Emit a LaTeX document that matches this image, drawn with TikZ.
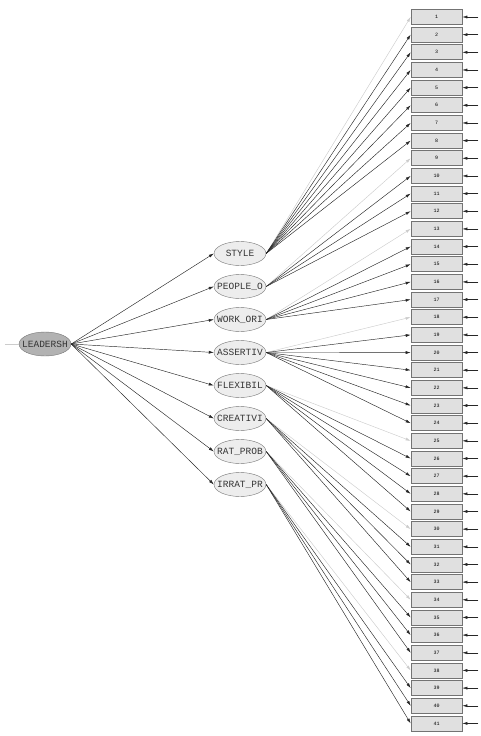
\documentclass[tikz,border=0pt]{standalone}
\usepackage{fontspec}
\setmonofont{Liberation Mono}
\usetikzlibrary{arrows.meta, positioning, shapes.geometric}
\tikzstyle{item} = [rectangle, draw=black!55, fill=black!12, line width=0.7pt,
  minimum width=51pt, minimum height=15pt, inner sep=0pt,
  font=\ttfamily\fontsize{5}{5}\selectfont]
\tikzstyle{factor} = [ellipse, draw=black!55, fill=black!7, minimum width=52pt,
  minimum height=24pt, inner xsep=-6pt, inner ysep=0pt, text=black!80,
  font=\ttfamily\fontsize{9.5}{10}\selectfont]
\tikzstyle{load} = [black!85, line width=0.45pt, -{Latex[length=5pt,width=3pt]}]
\tikzstyle{fixed} = [black!20, line width=0.45pt, -{Latex[length=5pt,width=3pt]}]

\begin{document}
\begin{tikzpicture}[x=1pt, y=-1pt]
    \useasboundingbox (0,0) rectangle (481,736);
    \node[factor, fill=black!30] (lead) at (45,344) {LEADERSH};
    \node[factor] (sty) at (240,253.5) {STYLE};
    \node[factor, below=8.6pt of sty] (peo) {PEOPLE\_O};
    \node[factor, below=8.6pt of peo] (work) {WORK\_ORI};
    \node[factor, below=8.6pt of work] (asse) {ASSERTIV};
    \node[factor, below=8.6pt of asse] (flex) {FLEXIBIL};
    \node[factor, below=8.6pt of flex] (crea) {CREATIVI};
    \node[factor, below=8.6pt of crea] (rat) {RAT\_PROB};
    \node[factor, below=8.6pt of rat] (irr) {IRRAT\_PR};
    % observed items
    \foreach \i in {1,...,41} {
      \node[item] (i\i) at (436.5,{17+(\i-1)*17.66}) {\i};
      \coordinate (e\i) at ([xshift=16pt]i\i.east);
      \draw[load] (e\i) -- (i\i.east);
    }
    \coordinate (lin) at ([xshift=-14pt]lead.west);
    \draw[fixed, -] (lin) -- (lead.west);
    \foreach \f in {sty,peo,work,asse,flex,crea,rat,irr}
      \draw[load] (lead.east) -- (\f.west);
    % first item of each factor is fixed
    \foreach \f/\a/\c/\b in {sty/1/2/8, peo/9/10/12, work/13/14/17, asse/18/19/24,
        flex/25/26/29, crea/30/31/33, rat/34/35/37, irr/38/39/41} {
      \draw[fixed] (\f.east) -- (i\a.west);
      \foreach \k in {\c,...,\b}
        \draw[load] (\f.east) -- (i\k.west);
    }
\end{tikzpicture}
\end{document}
